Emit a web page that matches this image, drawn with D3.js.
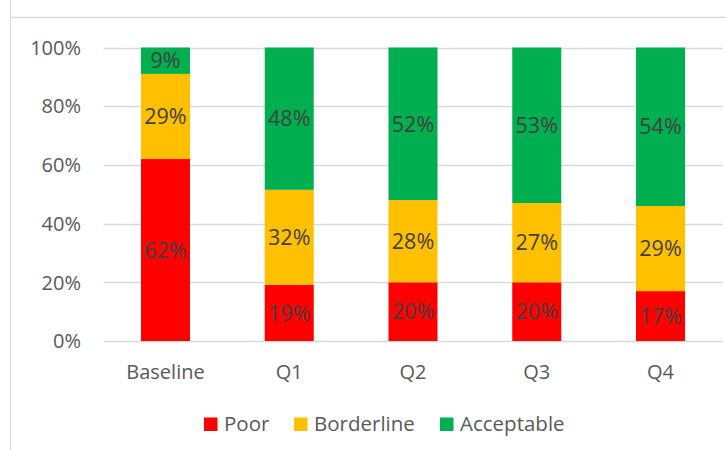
<!DOCTYPE html>
<html><head><meta charset="utf-8">
<script src="https://cdn.jsdelivr.net/npm/d3@7"></script>
<style>body{margin:0;background:#fff}svg{display:block}</style>
</head><body>
<svg id="c" width="726" height="450"></svg>
<script>
const categories = ["Baseline","Q1","Q2","Q3","Q4"];
const seriesNames = ["Poor","Borderline","Acceptable"];
const poor = [62,19,20,20,17];
const borderline = [29,32,28,27,29];
const acceptable = [9,48,52,53,54];
const yTicks = [0,0.2,0.4,0.6,0.8,1];
const colors = ["#FF0000","#FFC000","#00B050"];

const svg = d3.select("#c");
const font = "'Open Sans', sans-serif";
const fs = 20;

// frame lines
svg.append("line").attr("x1",10.5).attr("x2",10.5).attr("y1",0).attr("y2",450).attr("stroke","#d9d9d9");
svg.append("line").attr("x1",10.5).attr("x2",726).attr("y1",17.5).attr("y2",17.5).attr("stroke","#d9d9d9").attr("stroke-width",1.5);

const x = d3.scaleBand().domain(categories).range([103.6,722.4]).paddingInner(0.604).paddingOuter(0.302);
const y = d3.scaleLinear().domain([0,1]).range([341,47.5]);

// gridlines
svg.append("g").selectAll("line").data(yTicks).join("line")
  .attr("x1",103.6).attr("x2",722.4)
  .attr("y1",d=>Math.round(y(d))+0.5).attr("y2",d=>Math.round(y(d))+0.5)
  .attr("stroke","#d9d9d9").attr("stroke-width",1.3);

// y labels
svg.append("g").selectAll("text").data(yTicks).join("text")
  .attr("x",81).attr("y",d=>y(d)).attr("dy","0.36em")
  .attr("text-anchor","end").attr("font-family",font).attr("font-size",fs).attr("fill","#595959")
  .text(d3.format(".0%"));

const table = categories.map((c,i)=>({cat:c, Poor:poor[i], Borderline:borderline[i], Acceptable:acceptable[i]}));
const stacked = d3.stack().keys(seriesNames).offset(d3.stackOffsetExpand)(table);

const g = svg.append("g");
stacked.forEach((s,si)=>{
  g.append("g").selectAll("rect").data(s).join("rect")
    .attr("x",d=>x(d.data.cat)).attr("width",x.bandwidth())
    .attr("y",d=>y(d[1])).attr("height",d=>y(d[0])-y(d[1]))
    .attr("fill",colors[si]);
});
stacked.forEach((s,si)=>{
  g.append("g").selectAll("text").data(s).join("text")
    .attr("x",d=>x(d.data.cat)+x.bandwidth()/2)
    .attr("y",d=>(y(d[0])+y(d[1]))/2).attr("dy","0.36em")
    .attr("text-anchor","middle").attr("font-family",font).attr("font-size",21.5).attr("fill","#404040")
    .text(d=>d.data[s.key]+"%");
});

// x labels
svg.append("g").selectAll("text").data(categories).join("text")
  .attr("x",d=>x(d)+x.bandwidth()/2).attr("y",372).attr("dy","0.36em")
  .attr("text-anchor","middle").attr("font-family",font).attr("font-size",fs).attr("fill","#595959")
  .text(d=>d);

// legend
const legX = [204,294,440];
const lg = svg.append("g");
seriesNames.forEach((n,i)=>{
  lg.append("rect").attr("x",legX[i]).attr("y",417.5).attr("width",13.5).attr("height",13.5).attr("fill",colors[i]);
  lg.append("text").attr("x",legX[i]+20).attr("y",424).attr("dy","0.36em")
    .attr("font-family",font).attr("font-size",20.5).attr("fill","#595959").text(n);
});
</script>
</body></html>
